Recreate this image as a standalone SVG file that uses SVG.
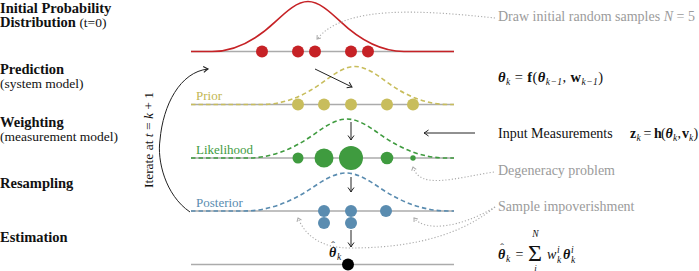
<svg xmlns="http://www.w3.org/2000/svg" width="699" height="271" viewBox="0 0 699 271">
<style>
text{font-family:"Liberation Serif","Times New Roman",serif;fill:#111}
.hd{font-size:14.5px;font-weight:bold}
.sm{font-size:13.5px}
.rt{font-size:14px}
.gr{fill:#9b9b9b}
.it{font-style:italic}
.bi{font-style:italic;font-weight:bold}
.b{font-weight:bold}
.sb{font-size:9.5px;font-style:italic;font-weight:normal}
.hat{font-size:11px;font-style:normal;font-weight:normal}
.base{stroke:#ababab;stroke-width:1.5;fill:none}
.dash{fill:none;stroke-width:1.6;stroke-dasharray:4.5 3}
.arr{fill:none;stroke:#222;stroke-width:1}
.dot{fill:none;stroke:#aaa;stroke-width:1.1;stroke-dasharray:1.2 2}
</style>
<defs>
<marker id="ah" viewBox="-6 -4 7 8" refX="0" refY="0" markerWidth="7" markerHeight="8" markerUnits="userSpaceOnUse" orient="auto">
<path d="M-4.5,-3 Q-1.5,-0.8 0,0 Q-1.5,0.8 -4.5,3" fill="none" stroke="#222" stroke-width="1"/>
</marker>
<marker id="ag" viewBox="-5 -4 6 8" refX="0" refY="0" markerWidth="6" markerHeight="8" markerUnits="userSpaceOnUse" orient="auto">
<path d="M-3.2,-2.4 L0,0 L-3.2,2.4" fill="none" stroke="#aaa" stroke-width="1"/>
</marker>
</defs>

<g id="left-labels">
<text class="hd" x="0" y="12.5">Initial Probability</text>
<text class="hd" x="0" y="27">Distribution <tspan class="sm" font-weight="normal">(t=0)</tspan></text>
<text class="hd" x="0" y="74">Prediction</text>
<text class="sm" x="0" y="88">(system model)</text>
<text class="hd" x="0" y="127">Weighting</text>
<text class="sm" x="0" y="141">(measurement model)</text>
<text class="hd" x="0" y="188">Resampling</text>
<text class="hd" x="0" y="242">Estimation</text>
</g>

<g id="initial">
<line class="base" x1="191" y1="51.5" x2="454" y2="51.5"/>
<path d="M191,51.5 L212,51.5 C233.3,51.5 254.7,41.4 276,21.15 C286.7,11.05 297.3,1.5 308,1.5 C318.7,1.5 329.3,11.05 340,21.15 C361.3,41.4 382.7,51.5 404,51.5 L454,51.5" fill="none" stroke="#c62226" stroke-width="1.6"/>
<g fill="#c62226">
<circle cx="262" cy="51.5" r="6"/><circle cx="298" cy="51.5" r="6"/><circle cx="315" cy="51.5" r="6"/><circle cx="351" cy="51.5" r="6"/><circle cx="368" cy="51.5" r="6"/>
</g>
</g>

<g id="prior">
<line class="base" x1="191" y1="104.5" x2="454" y2="104.5"/>
<path class="dash" stroke="#c8bd5c" d="M191,104.5 L262,104.5 C282.7,104.5 303.3,96.8 324,81.4 C334.3,73.8 344.7,66.5 355,66.5 C365.3,66.5 375.7,73.8 386,81.4 C406.7,96.8 427.3,104.5 448,104.5 L454,104.5"/>
<text x="196" y="100" style="font-size:13px;fill:#c2b652">Prior</text>
<g fill="#c8bd5c">
<circle cx="298" cy="104.5" r="6"/><circle cx="324" cy="104.5" r="6"/><circle cx="351" cy="104.5" r="6"/><circle cx="387" cy="104.5" r="6"/><circle cx="413" cy="104.5" r="6"/>
</g>
</g>

<g id="likelihood">
<line class="base" x1="191" y1="158" x2="454" y2="158"/>
<path class="dash" stroke="#3f9b3f" d="M191,158 L248,158 C270,158 292,150.1 314,134.3 C325,126.45 336,119 347,119 C358,119 369,126.45 380,134.3 C402,150.1 424,158 446,158 L454,158"/>
<text x="196" y="154" style="font-size:13px;fill:#3f9b3f">Likelihood</text>
<g fill="#3f9b3f">
<circle cx="298" cy="158" r="5.5"/><circle cx="324" cy="158" r="9.5"/><circle cx="351" cy="158" r="12"/><circle cx="387" cy="158" r="6.3"/><circle cx="413" cy="158" r="2.7"/>
</g>
</g>

<g id="posterior">
<line class="base" x1="191" y1="211" x2="454" y2="211"/>
<path class="dash" stroke="#5a8cb0" d="M191,211 L244,211 C266.7,211 289.3,203.3 312,187.9 C323.3,180.3 334.7,173 346,173 C357.3,173 368.7,180.3 380,187.9 C402.7,203.3 425.3,211 448,211 L454,211"/>
<text x="196" y="207" style="font-size:13px;fill:#5a8cb0">Posterior</text>
<g fill="#5a8cb0">
<circle cx="324" cy="211" r="6"/><circle cx="351" cy="211" r="6"/><circle cx="386" cy="211" r="6"/><circle cx="324" cy="223" r="6"/><circle cx="351" cy="223" r="6"/>
</g>
</g>

<g id="estimation">
<line class="base" x1="191" y1="264.5" x2="454" y2="264.5"/>
<circle cx="348" cy="264.5" r="6" fill="#000"/>
<text x="329" y="257" style="font-size:14px"><tspan class="bi">θ</tspan><tspan class="hat" x="331.2" y="248.5">ˆ</tspan><tspan class="sb" x="337" y="260">k</tspan></text>
</g>

<g id="iterate">
<text class="sm" transform="translate(153,140) rotate(-90)" text-anchor="middle">Iterate at <tspan class="it">t</tspan> = <tspan class="it">k</tspan> + 1</text>
</g>

<g id="right-texts">
<text class="rt gr" x="498" y="21">Draw initial random samples <tspan class="it">N</tspan> = 5</text>
<text x="498" y="82" style="font-size:14.5px" textLength="105" lengthAdjust="spacing"><tspan class="bi">θ</tspan><tspan class="sb" dy="3">k</tspan><tspan dy="-3"> = </tspan><tspan class="b">f</tspan>(<tspan class="bi">θ</tspan><tspan class="sb" dy="3">k−1</tspan><tspan dy="-3">, </tspan><tspan class="b">w</tspan><tspan class="sb" dy="3">k−1</tspan><tspan dy="-3">)</tspan></text>
<text class="rt" x="498" y="138">Input Measurements</text>
<text class="rt" y="138"><tspan class="b" x="630">z</tspan><tspan class="sb" x="636.5" y="141">k</tspan><tspan x="643.5" y="138">=</tspan><tspan class="b" x="654">h</tspan><tspan x="661">(</tspan><tspan class="bi" x="665.5">θ</tspan><tspan class="sb" x="673" y="141">k</tspan><tspan x="677.5" y="138">,</tspan><tspan class="b" x="682">v</tspan><tspan class="sb" x="689" y="141">k</tspan><tspan x="693.5" y="138">)</tspan></text>
<text class="rt gr" x="498" y="175">Degeneracy problem</text>
<text class="rt gr" x="498" y="211">Sample impoverishment</text>
<text id="estimate-formula" class="rt" y="259"><tspan class="bi" x="498">θ</tspan><tspan class="hat" x="500.2" y="250.5">ˆ</tspan><tspan class="sb" x="506" y="262">k</tspan><tspan x="515.5" y="259">=</tspan><tspan x="528" y="261" style="font-size:24px">Σ</tspan><tspan class="sb" x="535.5" y="236.5" text-anchor="middle">N</tspan><tspan class="sb" x="535.5" y="270.5" text-anchor="middle" style="font-size:9px">i</tspan><tspan class="it" x="547" y="259">w</tspan><tspan class="sb" x="557" y="253">i</tspan><tspan class="sb" x="557" y="263">k</tspan><tspan class="bi" x="563" y="259">θ</tspan><tspan class="sb" x="571" y="253">i</tspan><tspan class="sb" x="571" y="263">k</tspan></text>
</g>

<g id="connectors">
<path class="arr" d="M315,69 L352,87" marker-end="url(#ah)"/>
<path class="arr" d="M351,122 L351,140" marker-end="url(#ah)"/>
<path class="arr" d="M351,177 L351,192" marker-end="url(#ah)"/>
<path class="arr" d="M351,230 L351,247" marker-end="url(#ah)"/>
<path class="arr" d="M475,133 L424,133" marker-end="url(#ah)"/>
<path class="arr" d="M190,212 C165,195 157,160 160,140 C163,105 180,72 208,69" marker-end="url(#ah)"/>
<path class="dot" d="M495,18 C420,10 345,5 317,39" marker-end="url(#ag)"/>
<path class="dot" d="M494,172 C455,178 420,190 413,167" marker-end="url(#ag)"/>
<path class="dot" d="M495,207 C455,240 400,248 350,248 C320,248 305,235 298,218" marker-end="url(#ag)"/>
<path class="dot" d="M495,207 C460,228 425,232 414,218" marker-end="url(#ag)"/>
</g>
</svg>
